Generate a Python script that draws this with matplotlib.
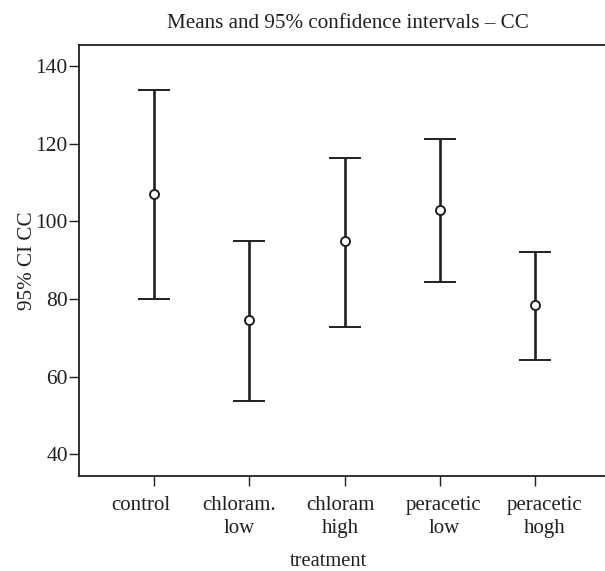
import matplotlib
matplotlib.use('Agg')
import matplotlib.pyplot as plt
import matplotlib.transforms as mtransforms

# Means and 95% CI limits per treatment
treatments = ['control', 'chloram.\nlow', 'chloram\nhigh', 'peracetic\nlow', 'peracetic\nhogh']
means = [107.0, 74.5, 94.8, 102.9, 78.4]
upper = [133.8, 94.9, 116.4, 121.3, 92.0]
lower = [80.0, 53.8, 72.8, 84.4, 64.4]

plt.rcParams['font.family'] = ['Liberation Serif', 'DejaVu Serif']
ink = '#231f20'

fig = plt.figure(figsize=(6.05, 5.71), dpi=100)
ax = fig.add_axes([79 / 605, 1 - 476 / 571, 1 - 79 / 605, (476 - 45) / 571])

x = list(range(len(treatments)))
err = [[m - lo for m, lo in zip(means, lower)], [hi - m for m, hi in zip(means, upper)]]
ax.errorbar(x, means, yerr=err, fmt='o', color=ink, ecolor=ink, elinewidth=1.9,
            capsize=11.5, capthick=2, markersize=6.5, markerfacecolor='white',
            markeredgecolor=ink, markeredgewidth=1.4)

ax.set_xlim(-0.783, 4.73)
ax.set_ylim(34.4, 145.4)
ax.set_xticks(x)
ax.set_xticklabels(treatments, fontsize=15, linespacing=1.25)
ax.set_yticks([40, 60, 80, 100, 120, 140])
ax.tick_params(axis='y', labelsize=15.5, length=7, width=1, color=ink, labelcolor=ink, pad=1)
ax.tick_params(axis='x', length=7.5, width=1, color=ink, labelcolor=ink, pad=7)

# the labels in the original sit a little off their ticks
shifts = [-13, -10, -4, 4, 9]
for lab, dx in zip(ax.get_xticklabels(), shifts):
    lab.set_transform(lab.get_transform() + mtransforms.ScaledTranslation(dx / 100, 0, fig.dpi_scale_trans))

ax.spines['right'].set_visible(False)
for s in ['left', 'top', 'bottom']:
    ax.spines[s].set_color(ink)
    ax.spines[s].set_linewidth(1.3)

ax.set_ylabel('95% CI CC', fontsize=15.2, color=ink, labelpad=-1)
fig.text(328 / 605, 1 - 561 / 571, 'treatment', fontsize=14.8,
         color=ink, ha='center', va='center')
fig.text(348 / 605, 1 - 24 / 571, 'Means and 95% confidence intervals – CC',
         fontsize=15.2, color=ink, ha='center', va='center')

fig.savefig('out.png', dpi=100)
